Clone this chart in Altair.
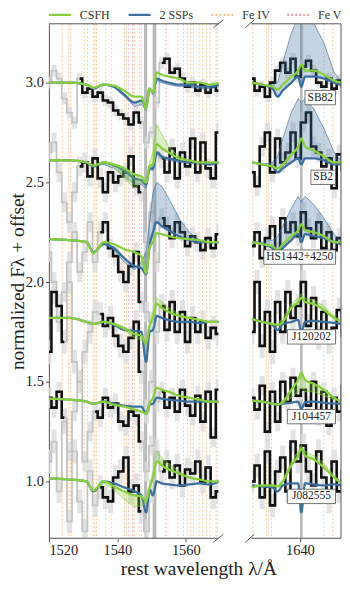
import altair as alt
import pandas as pd

# ---------------- data ----------------
GALAXIES = ["SB82", "SB2", "HS1442+4250", "J120202", "J104457", "J082555"]
OFFSETS = [2.0, 1.6, 1.2, 0.8, 0.4, 0.0]
ERRS = [0.03, 0.05, 0.05, 0.06, 0.05, 0.06]

MOD_WL_L = [1520, 1526, 1531, 1533, 1536, 1539, 1542, 1545, 1547, 1548.4, 1549.4,
            1550.4, 1551.5, 1553, 1555, 1558, 1561, 1564, 1567, 1570]
MOD_WL_R = [1626, 1629, 1632, 1633.5, 1635, 1637.5, 1639.5, 1640.4, 1641.5, 1644,
            1647, 1650, 1652.5, 1655]

CSFH_L = {
    "SB82": [1.00, 1.00, 0.99, 0.975, 0.99, 0.985, 0.96, 0.93, 0.93, 0.87, 0.97, 0.95, 1.05, 1.04, 1.03, 1.02, 1.00, 1.00, 0.99, 1.00],
    "SB2": [1.01, 1.01, 1.00, 0.985, 1.00, 0.99, 0.97, 0.94, 0.93, 0.90, 0.98, 0.99, 1.09, 1.07, 1.05, 1.02, 1.01, 1.00, 1.00, 1.00],
    "HS1442+4250": [1.015, 1.01, 1.00, 0.945, 1.00, 0.99, 0.965, 0.95, 0.93, 0.845, 0.97, 1.00, 1.045, 1.04, 1.03, 1.02, 1.015, 1.01, 1.00, 1.00],
    "J120202": [1.02, 1.02, 1.00, 0.99, 1.00, 0.99, 0.97, 0.94, 0.93, 0.895, 0.98, 1.02, 1.09, 1.07, 1.05, 1.03, 1.02, 1.01, 1.00, 1.00],
    "J104457": [1.015, 1.01, 1.00, 0.99, 1.00, 0.985, 0.975, 0.96, 0.95, 0.94, 0.99, 1.02, 1.07, 1.06, 1.05, 1.03, 1.02, 1.01, 1.00, 1.00],
    "J082555": [1.015, 1.01, 1.00, 0.955, 1.00, 0.975, 0.95, 0.93, 0.925, 0.905, 0.97, 1.02, 1.10, 1.08, 1.06, 1.04, 1.02, 1.01, 1.00, 1.00],
}
SSP_L = {
    "SB82": [1.00, 1.00, 0.99, 0.97, 0.99, 0.98, 0.94, 0.90, 0.91, 0.88, 0.97, 0.95, 1.02, 1.01, 1.00, 0.99, 0.99, 0.98, 0.98, 0.99],
    "SB2": [1.01, 1.01, 1.00, 0.98, 1.00, 0.985, 0.96, 0.92, 0.91, 0.89, 0.97, 0.97, 1.05, 1.03, 1.02, 1.01, 1.00, 1.00, 0.99, 1.00],
    "HS1442+4250": [1.015, 1.01, 1.00, 0.95, 0.99, 0.97, 0.92, 0.88, 0.87, 0.84, 0.98, 1.05, 1.10, 1.08, 1.06, 1.03, 1.01, 1.00, 1.00, 1.00],
    "J120202": [1.02, 1.02, 1.00, 0.99, 1.00, 0.985, 0.96, 0.955, 0.95, 0.80, 0.95, 0.96, 1.03, 1.02, 1.01, 1.00, 1.00, 0.995, 1.00, 1.00],
    "J104457": [1.015, 1.01, 1.00, 0.99, 1.00, 0.99, 0.98, 0.975, 0.975, 0.94, 0.985, 0.99, 1.02, 1.015, 1.01, 1.005, 1.00, 1.00, 1.00, 1.00],
    "J082555": [1.015, 1.01, 1.00, 0.95, 1.00, 0.99, 0.97, 0.95, 0.93, 0.845, 0.96, 0.93, 1.00, 0.99, 0.985, 0.98, 0.985, 0.99, 0.985, 1.00],
}
CSFH_L_SPREAD = {
    "SB2": [1.01, 1.01, 1.00, 0.98, 1.00, 0.98, 0.92, 0.87, 0.90, 0.90, 1.00, 1.05, 1.19, 1.14, 1.08, 1.03, 1.01, 1.00, 1.00, 1.00],
    "J120202": [1.02, 1.02, 1.00, 0.99, 1.00, 0.985, 0.96, 0.92, 0.91, 0.88, 0.99, 1.05, 1.12, 1.10, 1.07, 1.04, 1.02, 1.01, 1.00, 1.00],
    "J082555": [1.015, 1.01, 1.00, 0.95, 0.99, 0.96, 0.91, 0.87, 0.88, 0.89, 0.98, 1.05, 1.15, 1.12, 1.09, 1.05, 1.02, 1.01, 1.00, 1.00],
}
SSP_L_SPREAD = {
    "SB82": [1.00, 1.00, 0.99, 0.97, 0.99, 0.975, 0.93, 0.88, 0.89, 0.86, 0.96, 0.94, 1.01, 1.00, 0.99, 0.98, 0.98, 0.97, 0.97, 0.98],
    "SB2": [1.01, 1.01, 1.00, 0.98, 0.99, 0.97, 0.93, 0.89, 0.89, 0.87, 0.96, 0.96, 1.04, 1.02, 1.01, 1.00, 1.00, 0.99, 0.99, 1.00],
    "HS1442+4250": [1.015, 1.01, 1.00, 0.95, 0.99, 0.96, 0.90, 0.86, 0.90, 0.95, 1.10, 1.25, 1.30, 1.28, 1.22, 1.12, 1.05, 1.01, 1.00, 1.00],
}

CSFH_R = {
    "SB82": [1.00, 0.99, 0.98, 0.965, 0.99, 1.03, 1.06, 1.09, 1.06, 1.06, 1.04, 1.01, 1.00, 1.00],
    "SB2": [1.00, 0.99, 0.98, 0.97, 0.99, 1.04, 1.08, 1.12, 1.08, 1.06, 1.03, 1.00, 1.00, 1.00],
    "HS1442+4250": [1.00, 0.99, 0.98, 0.96, 0.99, 1.03, 1.06, 1.09, 1.06, 1.05, 1.03, 1.00, 1.00, 1.00],
    "J120202": [1.015, 1.00, 0.99, 0.985, 1.00, 1.07, 1.10, 1.12, 1.10, 1.09, 1.06, 1.02, 1.00, 1.00],
    "J104457": [1.005, 1.00, 0.99, 0.985, 1.00, 1.06, 1.11, 1.145, 1.11, 1.09, 1.06, 1.02, 1.00, 1.00],
    "J082555": [0.97, 0.98, 0.98, 0.975, 1.00, 1.08, 1.13, 1.165, 1.13, 1.11, 1.07, 1.02, 0.99, 0.99],
}
SSP_R = {
    "SB82": [1.00, 0.99, 0.97, 0.93, 0.96, 1.00, 1.03, 0.98, 1.03, 1.03, 1.02, 1.00, 0.99, 1.00],
    "SB2": [1.00, 0.99, 0.98, 0.95, 0.97, 1.00, 1.02, 0.99, 1.02, 1.02, 1.01, 0.99, 0.99, 1.00],
    "HS1442+4250": [1.00, 0.99, 0.97, 0.94, 0.97, 1.01, 1.04, 1.00, 1.04, 1.03, 1.02, 1.00, 0.99, 1.00],
    "J120202": [1.015, 1.00, 0.985, 0.96, 0.99, 1.00, 1.01, 0.945, 1.00, 1.005, 1.00, 0.995, 0.99, 1.00],
    "J104457": [1.005, 1.00, 0.99, 0.985, 0.99, 0.995, 1.00, 0.965, 0.995, 1.00, 0.995, 0.99, 0.99, 1.00],
    "J082555": [0.98, 0.975, 0.97, 0.95, 0.98, 0.99, 0.99, 0.845, 0.99, 0.985, 0.98, 0.985, 0.98, 0.99],
}
CSFH_R_SPREAD = {
    "J120202": [1.015, 1.00, 0.99, 0.99, 1.02, 1.09, 1.12, 1.14, 1.12, 1.11, 1.08, 1.03, 1.00, 1.00],
    "J104457": [1.005, 1.00, 0.99, 0.985, 0.99, 1.02, 1.05, 1.07, 1.05, 1.05, 1.03, 1.01, 1.00, 1.00],
    "J082555": [0.97, 0.98, 0.98, 0.98, 1.01, 1.10, 1.15, 1.18, 1.15, 1.13, 1.09, 1.03, 0.99, 0.99],
}
SSP_R_SPREAD = {
    "SB82": [1.00, 0.99, 0.99, 1.00, 1.10, 1.25, 1.33, 1.30, 1.33, 1.30, 1.20, 1.05, 1.00, 1.00],
    "SB2": [1.00, 0.99, 1.00, 1.03, 1.12, 1.25, 1.32, 1.30, 1.32, 1.27, 1.17, 1.05, 1.00, 1.00],
    "HS1442+4250": [1.00, 1.00, 1.01, 1.03, 1.08, 1.17, 1.23, 1.20, 1.23, 1.19, 1.12, 1.04, 1.00, 1.00],
}

OBS_WL_L = [1520, 1521.5, 1523, 1524.5, 1526, 1527.5, 1529, 1530.5, 1532, 1533.5, 1535, 1536.5,
            1538, 1539.5, 1541, 1542.5, 1544, 1545.5, 1547, 1548.5, 1550, 1551.5, 1553, 1554.5,
            1556, 1557.5, 1559, 1560.5, 1562, 1563.5, 1565, 1566.5, 1568, 1569.5]
OBS_WL_R = [1626, 1627.5, 1629, 1630.5, 1632, 1633.5, 1635, 1636.5, 1638, 1639.5, 1641, 1642.5,
            1644, 1645.5, 1647, 1648.5, 1650, 1651.5, 1653, 1654.5]
OBS_L = {
    "SB82": [1.00, 1.06, 1.02, 0.92, 0.85, 0.80, 1.02, 0.95, 0.97, 0.93, 0.95, 0.91, 0.90, 0.86, 0.84, 0.82, 0.79, 0.85, 0.80, 0.70, 0.75, 0.90, 1.10, 1.12, 1.05, 1.07, 1.02, 0.98, 1.00, 0.96, 0.99, 0.95, 0.98, 0.96],
    "SB2": [1.05, 1.10, 0.95, 0.80, 0.70, 0.85, 0.98, 1.00, 0.93, 1.02, 0.92, 0.85, 0.95, 0.90, 0.93, 0.95, 1.03, 0.88, 0.85, 0.60, 0.75, 1.05, 1.02, 0.95, 1.07, 0.92, 1.05, 0.98, 1.12, 0.95, 1.10, 0.97, 0.92, 1.15],
    "HS1442+4250": [0.95, 0.80, 0.60, 0.75, 0.90, 1.05, 0.85, 0.95, 1.10, 0.90, 1.05, 1.10, 0.97, 0.93, 0.85, 0.80, 0.88, 0.95, 0.70, 0.65, 0.60, 0.90, 1.12, 1.08, 1.02, 1.10, 1.05, 0.98, 1.03, 1.00, 0.96, 1.02, 0.97, 1.04],
    "J120202": [0.85, 1.15, 1.08, 0.90, 1.20, 0.80, 0.70, 0.85, 0.95, 1.05, 1.04, 0.98, 1.02, 0.93, 0.88, 0.85, 0.92, 1.00, 0.75, 0.55, 0.70, 0.95, 1.08, 0.96, 1.10, 0.95, 1.05, 0.90, 1.02, 0.95, 1.00, 0.92, 0.97, 0.94],
    "J104457": [1.02, 0.97, 1.05, 0.92, 0.75, 0.95, 1.10, 0.70, 0.85, 0.95, 0.92, 1.02, 0.97, 0.99, 0.90, 0.88, 0.95, 0.93, 0.80, 0.65, 0.78, 1.00, 1.05, 0.97, 1.02, 0.95, 1.06, 0.98, 0.93, 1.03, 0.90, 1.05, 0.82, 1.06],
    "J082555": [1.10, 1.20, 0.95, 1.30, 0.80, 1.15, 0.90, 0.75, 1.05, 0.88, 0.97, 0.92, 0.90, 1.02, 1.05, 1.12, 0.95, 0.98, 0.85, 0.75, 0.95, 1.15, 1.05, 1.10, 1.02, 1.08, 0.98, 1.06, 1.04, 1.10, 1.00, 1.07, 0.92, 0.95],
}
OBS_R = {
    "SB82": [1.02, 0.96, 0.98, 0.93, 1.00, 1.06, 1.10, 1.05, 1.12, 1.03, 1.08, 1.11, 1.06, 1.00, 0.98, 1.02, 0.97, 1.01, 0.98, 0.99],
    "SB2": [0.95, 0.88, 1.08, 1.15, 0.95, 1.12, 1.00, 1.05, 1.15, 1.02, 1.20, 1.25, 1.08, 1.05, 0.98, 1.02, 0.87, 1.04, 0.96, 1.00],
    "HS1442+4250": [0.98, 1.05, 0.92, 1.02, 1.08, 0.95, 1.12, 1.05, 1.10, 1.03, 1.15, 1.07, 1.02, 1.10, 0.97, 1.05, 0.96, 1.02, 0.99, 0.97],
    "J120202": [0.95, 1.20, 0.88, 1.05, 0.85, 1.10, 0.95, 1.15, 1.02, 1.08, 1.20, 0.98, 1.12, 0.92, 1.05, 0.90, 0.97, 1.06, 0.93, 1.00],
    "J104457": [1.02, 0.96, 1.08, 0.85, 1.05, 0.90, 1.10, 1.00, 1.12, 1.03, 1.06, 0.98, 1.10, 0.93, 1.05, 0.88, 1.02, 0.95, 1.08, 0.97],
    "J082555": [1.00, 1.08, 0.92, 1.15, 0.88, 1.05, 1.12, 0.95, 1.20, 1.10, 1.18, 1.05, 0.98, 1.15, 1.02, 0.90, 1.10, 0.95, 1.05, 1.02],
}
MASKED_L = {
    "SB82": [(1519, 1528.3), (1546.3, 1552.3)],
    "SB2": [(1519, 1528.3), (1546.3, 1552.3)],
    "HS1442+4250": [(1519, 1534.3), (1546.3, 1552.3)],
    "J120202": [(1524, 1534.3), (1546.3, 1552.3)],
    "J104457": [(1524, 1533), (1546.3, 1552.3)],
    "J082555": [(1519, 1534.3), (1546.3, 1552.3)],
}

FE4 = [1523.9, 1525.8, 1526.4, 1530.3, 1531.3, 1532.9, 1533.4, 1533.9, 1536.6, 1538.2,
       1542.1, 1542.6, 1545.0, 1546.5, 1547.0, 1557.6, 1559.3, 1560.5, 1561.5, 1562.2,
       1563.9, 1564.9, 1566.1, 1567.1, 1568.8, 1569.2,
       1626.3, 1630.2, 1630.9, 1631.7, 1647.0, 1649.6]
FE5 = [1543.3, 1544.5, 1554.2]
BANDS = [(1547.8, 1548.7), (1550.3, 1551.4), (1640.05, 1640.8)]

KINDS = ["CSFH", "2 SSPs", "Fe IV", "Fe V"]
KIND_COLORS = ["#86D03C", "#3B6FA0", "#F9C58D", "#F2A0A8"]
KIND_DASH = [[1, 0], [1, 0], [2, 2], [2, 2]]

# ---------------- layout ----------------
H = 516
YDOM = [0.715, 3.295]
# broken x axis: left panel 1520-1569.5 (0-170 px), right panel 1625.8-1652.0 (203-293 px)
XDOM = [1520, 1569.5, 1625.8, 1652.0]
XRANGE = [0, 170, 203, 293]
W = XRANGE[-1]
LEGEND_X = [0, 80, 163, 239]   # pixel start of each legend entry
LEGEND_Y = -9
FONT = "Liberation Serif"
AXC = "#555555"
TXT = "#222222"


def model_frame():
    rows, arows = [], []
    for panel, wl, tabs, spr in [("L", MOD_WL_L, [SSP_L, CSFH_L], [SSP_L_SPREAD, CSFH_L_SPREAD]),
                                 ("R", MOD_WL_R, [SSP_R, CSFH_R], [SSP_R_SPREAD, CSFH_R_SPREAD])]:
        for kind, table, spread in zip(["2 SSPs", "CSFH"], tabs, spr):
            for g, off in zip(GALAXIES, OFFSETS):
                for i, (lam, v) in enumerate(zip(wl, table[g])):
                    rows.append(dict(lam=lam, val=v + off, gal=g, kind=kind, role="main", panel=panel))
                    if g in spread:
                        s = spread[g][i] + off
                        rows.append(dict(lam=lam, val=s, gal=g, kind=kind, role="spread", panel=panel))
                        arows.append(dict(lam=lam, lo=v + off, hi=s, gal=g, kind=kind, panel=panel))
    return pd.DataFrame(rows), pd.DataFrame(arows)


def obs_frame():
    rows = []
    for panel, wl, table, masks in [("L", OBS_WL_L, OBS_L, MASKED_L), ("R", OBS_WL_R, OBS_R, {})]:
        for g, off, err in zip(GALAXIES, OFFSETS, ERRS):
            seg, prev = 0, None
            for lam, v in zip(wl, table[g]):
                m = any(a <= lam <= b for a, b in masks.get(g, []))
                if prev is not None and m != prev:
                    rows.append(dict(lam=lam, val=v + off, lo=v + off - err, hi=v + off + err,
                                     gal=g, seg=f"{panel}-{g}-{seg}", masked=prev))
                    seg += 1
                rows.append(dict(lam=lam, val=v + off, lo=v + off - err, hi=v + off + err,
                                 gal=g, seg=f"{panel}-{g}-{seg}", masked=m))
                prev = m
    return pd.DataFrame(rows)


color = alt.Color("kind:N", scale=alt.Scale(domain=KINDS, range=KIND_COLORS), legend=None)
dash = alt.StrokeDash("kind:N", scale=alt.Scale(domain=KINDS, range=KIND_DASH), legend=None)

xaxis = alt.Axis(values=[1520, 1540, 1560, 1640], format="d", domain=False, grid=False,
                 labelFont=FONT, labelFontSize=14.5, labelColor=TXT, tickColor=AXC, tickSize=3.5,
                 labelPadding=2, title="rest wavelength λ/Å", titleFont=FONT, titleFontSize=19.5,
                 titleFontWeight="normal", titleColor=TXT, titlePadding=2, titleX=150)
yaxis = alt.Axis(values=[1.0, 1.5, 2.0, 2.5, 3.0], format=".1f", grid=False,
                 labelFont=FONT, labelFontSize=14.5, labelColor=TXT, tickColor=AXC, tickSize=3.5,
                 domainColor=AXC, labelPadding=2,
                 title="normalized Fλ + offset", titleFont=FONT, titleFontSize=19.5,
                 titleFontWeight="normal", titleColor=TXT, titleX=-25, titleY=H / 2,
                 titleAngle=270, titleBaseline="alphabetic", titleAlign="center")


def X(f):
    return alt.X(f, scale=alt.Scale(domain=XDOM, range=XRANGE, nice=False, zero=False), axis=xaxis)


def Y(f):
    return alt.Y(f, scale=alt.Scale(domain=YDOM, nice=False, zero=False), axis=yaxis)


mdf, adf = model_frame()
odf = obs_frame()
fe = pd.DataFrame([dict(lam=l, kind="Fe IV") for l in FE4] + [dict(lam=l, kind="Fe V") for l in FE5])
bd = pd.DataFrame([dict(a=a, b=b) for a, b in BANDS])

layers = []
layers.append(alt.Chart(fe).mark_rule(strokeWidth=1, opacity=0.85).encode(
    x=X("lam:Q"), color=color, strokeDash=dash))
layers.append(alt.Chart(bd).mark_rect(color="#8a8a8a", opacity=0.6).encode(x=X("a:Q"), x2="b:Q"))
layers.append(alt.Chart(odf).mark_area(interpolate="step", color="#dcdcdc", opacity=0.8, clip=True).encode(
    x=X("lam:Q"), y=Y("lo:Q"), y2="hi:Q", detail="seg:N"))
layers.append(alt.Chart(odf[odf.masked]).mark_line(interpolate="step", color="#c4c4c4", strokeWidth=1.8, clip=True).encode(
    x=X("lam:Q"), y=Y("val:Q"), detail="seg:N"))
layers.append(alt.Chart(odf[~odf.masked]).mark_line(interpolate="step", color="#111111", strokeWidth=2.6, clip=True).encode(
    x=X("lam:Q"), y=Y("val:Q"), detail="seg:N"))
for kind in ["2 SSPs", "CSFH"]:
    a = adf[adf.kind == kind]
    layers.append(alt.Chart(a).mark_area(opacity=0.3, clip=True).encode(
        x=X("lam:Q"), y=Y("lo:Q"), y2="hi:Q", color=color, detail=["gal:N", "panel:N"]))
    s = mdf[(mdf.kind == kind) & (mdf.role == "spread")]
    layers.append(alt.Chart(s).mark_line(strokeWidth=0.9, opacity=0.75, clip=True).encode(
        x=X("lam:Q"), y=Y("val:Q"), color=color, strokeDash=dash, detail=["gal:N", "panel:N"]))
    m = mdf[(mdf.kind == kind) & (mdf.role == "main")]
    layers.append(alt.Chart(m).mark_line(strokeWidth=2.3, clip=True, interpolate="monotone").encode(
        x=X("lam:Q"), y=Y("val:Q"), color=color, strokeDash=dash, detail=["gal:N", "panel:N"]))

# galaxy name boxes in the right panel
PX_PER_A = (XRANGE[3] - XRANGE[2]) / (XDOM[3] - XDOM[2])
lab = pd.DataFrame(dict(gal=GALAXIES, y=[o + 1 - 0.075 for o in OFFSETS]))
lab["w"] = lab.gal.str.len() * 5.9 + 7
lab["right"] = 1650.4
lab["left"] = lab.right - lab.w / PX_PER_A
lab["mid"] = (lab.left + lab.right) / 2
lab["y0"] = lab.y - 0.036
lab["y1"] = lab.y + 0.036
layers.append(alt.Chart(lab).mark_rect(fill="white", stroke="#555", strokeWidth=0.8).encode(
    x=X("left:Q"), x2="right:Q", y=Y("y0:Q"), y2="y1:Q"))
layers.append(alt.Chart(lab).mark_text(font=FONT, fontSize=11.5, color=TXT, baseline="middle").encode(
    x=X("mid:Q"), y=Y("y:Q"), text="gal:N"))

# frame of the two panels and the axis-break marks (pixel positions)
one = pd.DataFrame({"k": [0]})
fr = alt.Chart(one).mark_rule(color=AXC, strokeWidth=1)
L1, R0 = XRANGE[1], XRANGE[2]
for yy in [0, H]:
    layers.append(fr.encode(x=alt.value(0), x2=alt.value(L1), y=alt.value(yy)))
    layers.append(fr.encode(x=alt.value(R0), x2=alt.value(W), y=alt.value(yy)))
    layers.append(fr.encode(x=alt.value(L1 - 5), x2=alt.value(L1 + 5), y=alt.value(yy + 4), y2=alt.value(yy - 4)))
    layers.append(fr.encode(x=alt.value(R0 - 6), x2=alt.value(R0 + 3), y=alt.value(yy + 4), y2=alt.value(yy - 4)))
layers.append(fr.encode(x=alt.value(W), y=alt.value(0), y2=alt.value(H)))

# legend above the panels
for kind, col, dsh, x0 in zip(KINDS, KIND_COLORS, KIND_DASH, LEGEND_X):
    layers.append(alt.Chart(one).mark_rule(color=col, strokeWidth=2.2, strokeDash=dsh).encode(
        x=alt.value(x0), x2=alt.value(x0 + 22), y=alt.value(LEGEND_Y)))
    layers.append(alt.Chart(one).mark_text(font=FONT, fontSize=12, color="#333", align="left",
                                           baseline="middle", text=kind).encode(
        x=alt.value(x0 + 31), y=alt.value(LEGEND_Y)))

chart = alt.layer(*layers).properties(
    width=W, height=H, padding={"left": 0, "top": 0, "right": 0, "bottom": 0}
).configure_view(stroke=None).configure_axis(domainWidth=1)

chart.save("out.html", embed_options={"renderer": "svg", "actions": False})
